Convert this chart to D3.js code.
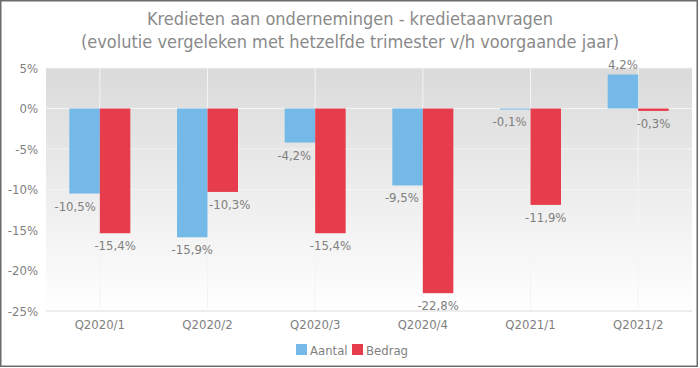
<!DOCTYPE html>
<html><head><meta charset="utf-8">
<script src="https://cdn.jsdelivr.net/npm/d3@7"></script>
<style>body{margin:0;background:#fff}svg{display:block}text{font-family:"DejaVu Sans Condensed","DejaVu Sans",sans-serif}</style>
</head><body>
<svg id="c" width="700" height="368"></svg>
<script>
const categories = ["Q2020/1","Q2020/2","Q2020/3","Q2020/4","Q2021/1","Q2021/2"];
const seriesNames = ["Aantal","Bedrag"];
const aantal = [-10.5,-15.9,-4.2,-9.5,-0.1,4.2];
const bedrag = [-15.4,-10.3,-15.4,-22.8,-11.9,-0.3];
const yTicks = [5,0,-5,-10,-15,-20,-25];
const colors = ["#74b9e7","#e73c4b"];
const titleLines = ["Kredieten aan ondernemingen - kredietaanvragen","(evolutie vergeleken met hetzelfde trimester v/h voorgaande jaar)"];

const svg = d3.select("#c");
const W=700,H=368;
const m={l:46,r:8,t:68,b:57};
const pw=W-m.l-m.r, ph=H-m.t-m.b;
svg.append("rect").attr("x",0.75).attr("y",0.75).attr("width",W-3.5).attr("height",H-2.5)
  .attr("fill","#fff").attr("stroke","#6b6b6b").attr("stroke-width",1.5);

const defs=svg.append("defs");
const lg=defs.append("linearGradient").attr("id","bg").attr("x1",0).attr("y1",0).attr("x2",0).attr("y2",1);
lg.append("stop").attr("offset","0%").attr("stop-color","#dadada");
lg.append("stop").attr("offset","100%").attr("stop-color","#ffffff");

const g=svg.append("g").attr("transform",`translate(${m.l},${m.t})`);
g.append("rect").attr("width",pw).attr("height",ph).attr("fill","url(#bg)");

const y=d3.scaleLinear().domain([-25,5]).range([ph,0]);
const x=d3.scaleBand().domain(categories).range([0,pw]).paddingInner(0).paddingOuter(0);
const xs=d3.scaleBand().domain(seriesNames).range([x.bandwidth()/2-30.5,x.bandwidth()/2+30.5]);

// grid
g.selectAll(".hg").data(yTicks).join("line")
  .attr("x1",0).attr("x2",pw).attr("y1",d=>y(d)).attr("y2",d=>y(d))
  .attr("stroke",d=>d===-25?"#dcdcdc":"#f4f4f4").attr("stroke-width",1.2);
g.selectAll(".vg").data(categories).join("line")
  .attr("x1",d=>x(d)+x.bandwidth()/2).attr("x2",d=>x(d)+x.bandwidth()/2)
  .attr("y1",0).attr("y2",ph).attr("stroke","#f4f4f4").attr("stroke-width",1);

// y axis
const ya=d3.axisLeft(y).tickValues(yTicks).tickSize(0).tickPadding(8).tickFormat(d=>d+"%");
const yg=g.append("g").call(ya);
yg.select(".domain").remove();
yg.selectAll("text").attr("fill","#7f7f7f").style("font-size","13px");

// x axis
const xa=d3.axisBottom(x).tickSize(0).tickPadding(9);
const xg=g.append("g").attr("transform",`translate(0,${ph})`).call(xa);
xg.select(".domain").remove();
xg.selectAll("text").attr("fill","#7f7f7f").style("font-size","13px");

const data=[];
categories.forEach((c,i)=>{
  data.push({c,s:0,v:aantal[i],other:bedrag[i]});
  data.push({c,s:1,v:bedrag[i],other:aantal[i]});
});
g.selectAll(".bar").data(data).join("rect")
  .attr("x",d=>x(d.c)+xs(seriesNames[d.s]))
  .attr("width",xs.bandwidth())
  .attr("y",d=>y(Math.max(0,d.v)))
  .attr("height",d=>Math.max(1,Math.abs(y(d.v)-y(0))))
  .attr("fill",d=>colors[d.s]);

const fmt=v=>(v.toFixed(1)).replace(".",",")+"%";
g.selectAll(".lbl").data(data).join("text")
  .attr("fill","#808080").style("font-size","13px")
  .each(function(d){
    const t=d3.select(this);
    const cx=x(d.c)+x.bandwidth()/2;
    const bc=x(d.c)+xs(seriesNames[d.s])+xs.bandwidth()/2;
    const yy = d.v>=0 ? y(d.v)-5 : y(d.v)+17;
    t.attr("y",yy).text(fmt(d.v));
    // overlap with neighbour bar?
    const overlap = d.v<0 && d.other<0 && d.other < d.v - 0.5;
    if(overlap){
      if(d.s===0){t.attr("x",cx-4).attr("text-anchor","end");}
      else{t.attr("x",cx+1.5).attr("text-anchor","start");}
    } else {
      t.attr("x",bc).attr("text-anchor","middle");
    }
  });

// title
svg.selectAll(".title").data(titleLines).join("text")
  .attr("x",W/2).attr("y",(d,i)=>25+i*23).attr("text-anchor","middle")
  .attr("fill","#8a8a8a").style("font-size","18px").text(d=>d);

// legend
const leg=svg.append("g");
const lx=[296,352];
seriesNames.forEach((s,i)=>{
  leg.append("rect").attr("x",lx[i]).attr("y",344).attr("width",11).attr("height",11).attr("fill",colors[i]);
  leg.append("text").attr("x",lx[i]+14).attr("y",354.5).attr("fill","#7f7f7f").style("font-size","13px").text(s);
});
</script>
</body></html>
